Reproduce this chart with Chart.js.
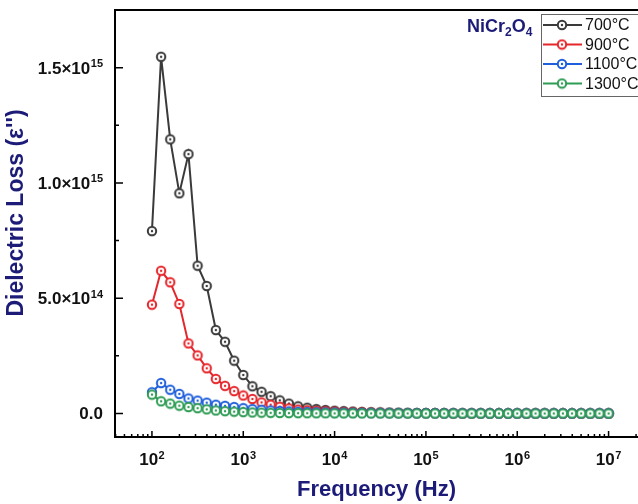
<!DOCTYPE html>
<html>
<head>
<meta charset="utf-8">
<script src="https://cdn.jsdelivr.net/npm/chart.js@4.4.1/dist/chart.umd.min.js"></script>
<style>
  html, body { margin:0; padding:0; background:#fff; overflow:hidden; }
  canvas { display:block; }
</style>
</head>
<body>
<canvas id="chart" width="638" height="504"></canvas>
<script>
/* DATA (dielectric loss in units of 1e12) */
const UNIT = 1e12;
const freqs = [
  100, 125.9, 158.5, 199.5, 251.2, 316.2, 398.1, 501.2, 631.0, 794.3,
  1000, 1259, 1585, 1995, 2512, 3162, 3981, 5012, 6310, 7943,
  10000, 12589, 15849, 19953, 25119, 31623, 39811, 50119, 63096, 79433,
  100000, 125893, 158489, 199526, 251189, 316228, 398107, 501187, 630957, 794328,
  1000000, 1258925, 1584893, 1995262, 2511886, 3162278, 3981072, 5011872, 6309573, 7943282,
  10000000
];
const loss700 = [
  791, 1547, 1189, 955, 1125, 641, 553, 362, 311, 229,
  167, 118, 94, 75, 57, 43, 31, 25, 19, 15,
  12, 10, 8.2, 6.8, 5.6, 4.7, 3.9, 3.3, 2.8, 2.3,
  1.9, 1.6, 1.4, 1.2, 1, 0.9, 0.8, 0.7, 0.6, 0.55,
  0.5, 0.45, 0.4, 0.36, 0.33, 0.3, 0.27, 0.25, 0.23, 0.21, 0.2
];
const loss900 = [
  472, 619, 569, 475, 304, 252, 196, 150, 120, 97,
  78, 63, 48, 38, 29, 22, 17, 14, 11.5, 9.5,
  7.8, 6.4, 5.3, 4.4, 3.6, 3, 2.5, 2.1, 1.8, 1.5,
  1.3, 1.1, 0.95, 0.82, 0.72, 0.63, 0.55, 0.49, 0.44, 0.4,
  0.36, 0.33, 0.3, 0.28, 0.26, 0.24, 0.22, 0.21, 0.2, 0.19, 0.18
];
const loss1100 = [
  92, 132, 103, 85, 65, 56, 47, 38, 33, 28,
  23, 19, 16, 13, 11, 9, 7.5, 6.3, 5.3, 4.5,
  3.8, 3.2, 2.7, 2.3, 2, 1.7, 1.5, 1.3, 1.15, 1,
  0.9, 0.8, 0.72, 0.65, 0.6, 0.55, 0.5, 0.46, 0.43, 0.4,
  0.37, 0.35, 0.33, 0.31, 0.3, 0.29, 0.28, 0.27, 0.26, 0.25, 0.25
];
const loss1300 = [
  82, 53, 43, 34, 28, 23, 18, 13, 10, 8,
  6, 4.5, 3.5, 2.8, 2.2, 1.8, 1.5, 1.2, 1, 0.85,
  0.7, 0.6, 0.5, 0.43, 0.37, 0.32, 0.28, 0.25, 0.22, 0.2,
  0.18, 0.16, 0.15, 0.14, 0.13, 0.12, 0.11, 0.1, 0.1, 0.09,
  0.09, 0.08, 0.08, 0.07, 0.07, 0.07, 0.06, 0.06, 0.06, 0.05, 0.05
];
const seriesNames = ["700°C", "900°C", "1100°C", "1300°C"];
const seriesColors = ["#3a3a3a", "#e5262b", "#1f5fdc", "#2e9c55"];
const seriesValues = [loss700, loss900, loss1100, loss1300];

const yTickValues = [0, 5e14, 1e15, 1.5e15];
const yTickLabels = [["0.0", ""], ["5.0×10", "14"], ["1.0×10", "15"], ["1.5×10", "15"]];
const yMinorValues = [2.5e14, 7.5e14, 1.25e15];
const xTickValues = [1e2, 1e3, 1e4, 1e5, 1e6, 1e7];
const xTickExps = ["2", "3", "4", "5", "6", "7"];

const NAVY = "#1c1c78";
const FONT = "'Liberation Sans', Arial, sans-serif";

/* marker: open circle with a dot in the middle */
function makeMarker(color){
  const c = document.createElement("canvas");
  c.width = 12; c.height = 12;
  const g = c.getContext("2d");
  g.beginPath(); g.arc(6, 6, 4.2, 0, Math.PI*2);
  g.fillStyle = "#fff"; g.fill();
  g.lineWidth = 2; g.strokeStyle = color; g.stroke();
  g.beginPath(); g.arc(6, 6, 1.2, 0, Math.PI*2);
  g.fillStyle = color; g.fill();
  return c;
}
const markers = seriesColors.map(makeMarker);

/* text with superscript, anchored by its right edge or centre */
function supText(ctx, main, sup, x, y, align, size, supSize){
  ctx.font = "bold " + size + "px " + FONT;
  const mw = ctx.measureText(main).width;
  ctx.font = "bold " + supSize + "px " + FONT;
  const sw = sup ? ctx.measureText(sup).width + 0.5 : 0;
  let left = align === "right" ? x - mw - sw : x - (mw + sw)/2;
  ctx.textAlign = "left";
  ctx.textBaseline = "alphabetic";
  ctx.font = "bold " + size + "px " + FONT;
  ctx.fillText(main, left, y);
  if(sup){
    ctx.font = "bold " + supSize + "px " + FONT;
    ctx.fillText(sup, left + mw + 0.5, y - 6.5);
  }
}

const decor = {
  id: "decor",
  afterDraw(chart){
    const {ctx, chartArea: a, scales: {x, y}} = chart;
    ctx.save();
    ctx.strokeStyle = "#000";
    ctx.lineWidth = 2;
    ctx.beginPath();
    ctx.moveTo(a.right + 2, a.top);
    ctx.lineTo(a.left, a.top);
    ctx.lineTo(a.left, a.bottom);
    ctx.lineTo(a.right + 2, a.bottom);
    ctx.stroke();

    // y ticks (inward)
    ctx.lineWidth = 1.5;
    ctx.beginPath();
    yTickValues.forEach(v => { const p = y.getPixelForValue(v); ctx.moveTo(a.left, p); ctx.lineTo(a.left + 8, p); });
    yMinorValues.forEach(v => { const p = y.getPixelForValue(v); ctx.moveTo(a.left, p); ctx.lineTo(a.left + 4, p); });
    // x ticks (inward)
    xTickValues.forEach(v => { const p = x.getPixelForValue(v); ctx.moveTo(p, a.bottom); ctx.lineTo(p, a.bottom - 6); });
    for(let n = 1; n <= 7; n++){
      for(let m = 2; m <= 9; m++){
        const v = m * Math.pow(10, n);
        if(v < x.min || v > x.max) continue;
        const p = x.getPixelForValue(v);
        ctx.moveTo(p, a.bottom); ctx.lineTo(p, a.bottom - 3);
      }
    }
    ctx.stroke();

    // tick labels
    ctx.fillStyle = "#111";
    yTickValues.forEach((v, i) => {
      const p = y.getPixelForValue(v);
      supText(ctx, yTickLabels[i][0], yTickLabels[i][1], 103, p + 6, "right", 17, 11);
    });
    xTickValues.forEach((v, i) => {
      const p = x.getPixelForValue(v);
      supText(ctx, "10", xTickExps[i], p, 465, "center", 17, 11);
    });

    // axis titles
    ctx.fillStyle = NAVY;
    ctx.font = "bold 22px " + FONT;
    ctx.textAlign = "center";
    ctx.textBaseline = "alphabetic";
    ctx.fillText("Frequency (Hz)", (a.left + a.right)/2, 496);
    ctx.save();
    ctx.translate(17, 213);
    ctx.rotate(-Math.PI/2);
    ctx.textBaseline = "middle";
    ctx.font = "bold 23px " + FONT;
    ctx.fillText("Dielectric Loss (ε'')", 0, 0);
    ctx.restore();

    // sample name
    ctx.textAlign = "left";
    ctx.textBaseline = "alphabetic";
    let sx = 467;
    const parts = [["NiCr", 0], ["2", 1], ["O", 0], ["4", 1]];
    parts.forEach(([t, sub]) => {
      ctx.font = "bold " + (sub ? 12 : 18) + "px " + FONT;
      ctx.fillText(t, sx, sub ? 36 : 32);
      sx += ctx.measureText(t).width;
    });

    // legend box
    ctx.strokeStyle = "#666";
    ctx.lineWidth = 1;
    ctx.strokeRect(541.5, 14.5, 120, 82);
    seriesNames.forEach((name, i) => {
      const ly = 25 + i * 19.5;
      ctx.strokeStyle = seriesColors[i];
      ctx.lineWidth = 2;
      ctx.beginPath(); ctx.moveTo(543, ly); ctx.lineTo(582, ly); ctx.stroke();
      ctx.drawImage(markers[i], 556, ly - 6);
      ctx.fillStyle = "#111";
      ctx.font = "16px " + FONT;
      ctx.textBaseline = "middle";
      ctx.fillText(name, 585, ly + 1);
    });
    ctx.restore();
  }
};

const datasets = seriesValues.map((vals, i) => ({
  label: seriesNames[i],
  data: vals.map((v, k) => ({ x: freqs[k], y: v * UNIT })),
  borderColor: seriesColors[i],
  backgroundColor: "#fff",
  borderWidth: 2,
  pointStyle: markers[i],
  pointRadius: 5,
  order: 4 - i,
  tension: 0
}));

new Chart(document.getElementById("chart"), {
  type: "line",
  data: { datasets },
  options: {
    responsive: false,
    animation: false,
    layout: { autoPadding: false, padding: { top: 10, left: 0, right: 0, bottom: 0 } },
    plugins: { legend: { display: false }, tooltip: { enabled: false } },
    scales: {
      x: {
        type: "logarithmic", min: 39.4, max: 2.1e7,
        ticks: { display: false }, grid: { display: false }, border: { display: false },
        afterFit(s){ s.height = 67; }
      },
      y: {
        type: "linear", min: -1.02e14, max: 1.75e15,
        ticks: { display: false }, grid: { display: false }, border: { display: false },
        afterFit(s){ s.width = 115; }
      }
    }
  },
  plugins: [decor]
});
</script>
</body>
</html>
